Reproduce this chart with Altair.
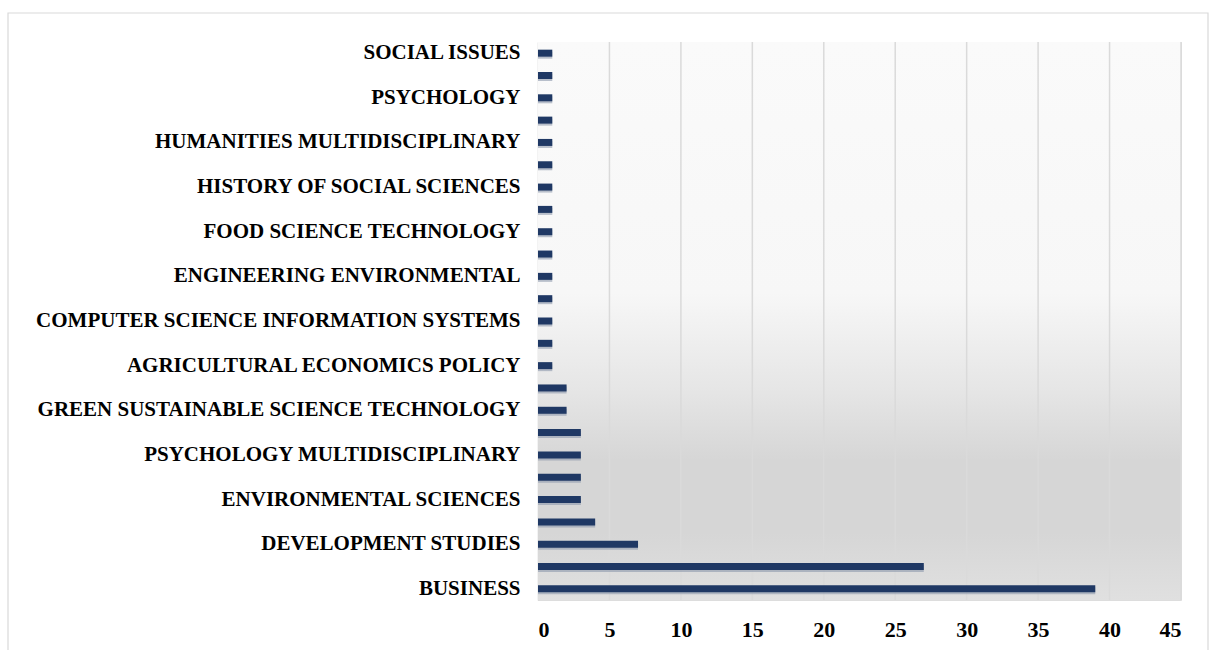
import altair as alt
import pandas as pd

labels = [
    "SOCIAL ISSUES", "", "PSYCHOLOGY", "", "HUMANITIES MULTIDISCIPLINARY", "",
    "HISTORY OF SOCIAL SCIENCES", "", "FOOD SCIENCE TECHNOLOGY", "",
    "ENGINEERING ENVIRONMENTAL", "", "COMPUTER SCIENCE INFORMATION SYSTEMS", "",
    "AGRICULTURAL ECONOMICS POLICY", "", "GREEN SUSTAINABLE SCIENCE TECHNOLOGY", "",
    "PSYCHOLOGY MULTIDISCIPLINARY", "", "ENVIRONMENTAL SCIENCES", "",
    "DEVELOPMENT STUDIES", "", "BUSINESS",
]
values = [1, 1, 1, 1, 1, 1, 1, 1, 1, 1, 1, 1, 1, 1, 1, 2, 2, 3, 3, 3, 3, 4, 7, 27, 39]
x_ticks = [0, 5, 10, 15, 20, 25, 30, 35, 40, 45]

df = pd.DataFrame({"idx": list(range(len(labels))), "label": labels, "value": values})
grid_df = pd.DataFrame({"t": x_ticks[1:]})

W, H = 643, 558
FONT = "Liberation Serif"
label_arr = "[" + ",".join("'" + l + "'" for l in labels) + "]"

x_scale = alt.Scale(domain=[0, 45])
y_enc = alt.Y(
    "idx:O",
    sort="ascending",
    scale=alt.Scale(paddingInner=0.0, paddingOuter=0.0),
    axis=alt.Axis(
        title=None, ticks=False, domain=True, domainColor="#d0d0d0", domainWidth=1.5,
        labelExpr=label_arr + "[datum.value]",
        labelFont=FONT, labelFontSize=21, labelFontWeight="bold", labelColor="#000000",
        labelPadding=18, labelLimit=600, grid=False,
    ),
)

border = alt.Chart(alt.Data(values=[{}])).mark_rect(
    fill=None, stroke="#d9d9d9", strokeWidth=1.2, clip=False
).encode(x=alt.value(-530), x2=alt.value(670), y=alt.value(-29), y2=alt.value(640))

bg = alt.Chart(alt.Data(values=[{}])).mark_rect(
    fill=alt.Gradient(
        gradient="linear", x1=0, x2=0, y1=0, y2=1,
        stops=[
            alt.GradientStop(offset=0, color="#fafafa"),
            alt.GradientStop(offset=0.45, color="#f7f7f7"),
            alt.GradientStop(offset=0.62, color="#e6e6e6"),
            alt.GradientStop(offset=0.75, color="#d6d6d6"),
            alt.GradientStop(offset=0.88, color="#d6d6d6"),
            alt.GradientStop(offset=1, color="#e0e0e0"),
        ],
    )
).encode(x=alt.value(0), x2=alt.value(W), y=alt.value(0), y2=alt.value(H))

grid = alt.Chart(grid_df).mark_rule(color="#dadada", strokeWidth=1.5).encode(
    x=alt.X("t:Q", scale=x_scale), y=alt.value(0), y2=alt.value(H)
)

shadow = alt.Chart(df).mark_bar(size=7, color="#8c97ab", opacity=0.6, yOffset=2).encode(
    x=alt.X("value:Q", scale=x_scale), y=y_enc
)

bars = alt.Chart(df).mark_bar(size=7, color="#1f3864").encode(
    x=alt.X(
        "value:Q", scale=x_scale,
        axis=alt.Axis(
            title=None, values=x_ticks, grid=False, ticks=False, domain=False,
            labelFont=FONT, labelFontSize=22, labelFontWeight="bold", labelColor="#000000",
            labelPadding=19,
        ),
    ),
    y=y_enc,
)

chart = alt.layer(border, bg, grid, shadow, bars).properties(
    width=W, height=H,
    autosize=alt.AutoSizeParams(type="none"),
    padding={"left": 538, "top": 42, "right": 28, "bottom": 50},
).configure_view(stroke=None).configure(background="#ffffff")

chart.save("out.html", embed_options={"renderer": "svg", "actions": False})
